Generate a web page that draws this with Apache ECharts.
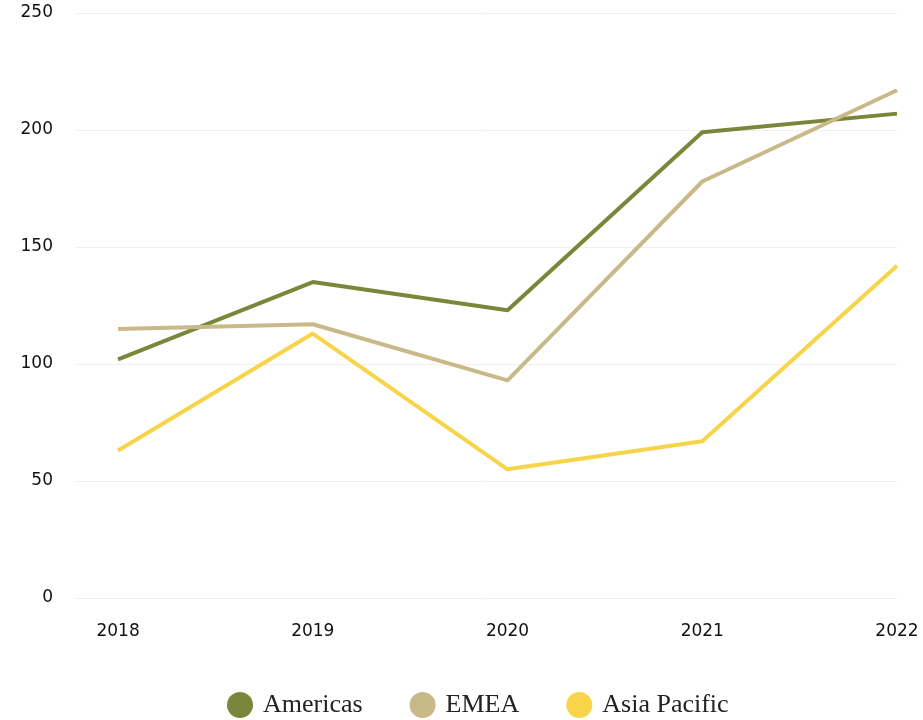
<!DOCTYPE html>
<html>
<head>
<meta charset="utf-8">
<script src="https://cdn.jsdelivr.net/npm/echarts@6/dist/echarts.min.js"></script>
<style>
  html, body { margin: 0; padding: 0; background: #ffffff; }
  #chart { width: 923px; height: 720px; }
</style>
</head>
<body>
<div id="chart"></div>
<script>
// Yearly values per region
var years = [2018, 2019, 2020, 2021, 2022];
var americas = [102, 135, 123, 199, 207];
var emea = [115, 117, 93, 178, 217];
var asiaPacific = [63, 113, 55, 67, 142];
var yTicks = [0, 50, 100, 150, 200, 250];

var seriesNames = ['Americas', 'EMEA', 'Asia Pacific'];
var seriesColors = ['#7a8639', '#c9b888', '#f7d44a'];
var seriesValues = [americas, emea, asiaPacific];

function pairs(values) {
  return years.map(function (y, i) { return [y, values[i]]; });
}

var chart = echarts.init(document.getElementById('chart'), null, { renderer: 'canvas' });

var axisFont = { fontFamily: 'DejaVu Sans', fontSize: 17, color: '#111111' };

chart.setOption({
  animation: false,
  grid: { left: 76, right: 26, top: 13, bottom: 122, containLabel: false },
  legend: {
    top: 692,
    left: 227,
    padding: 0,
    itemWidth: 26,
    itemHeight: 26,
    itemGap: 47,
    icon: 'circle',
    textStyle: { fontFamily: 'Liberation Serif', fontSize: 26, color: '#222222', padding: [0, 0, 0, 5] },
    data: seriesNames
  },
  xAxis: {
    type: 'value',
    min: 2017.784,
    max: 2022,
    axisLine: { show: false },
    axisTick: { show: false },
    splitLine: { show: false },
    axisLabel: Object.assign({
      customValues: years,
      margin: 25,
      formatter: function (v) { return String(Math.round(v)); }
    }, axisFont)
  },
  yAxis: {
    type: 'value',
    min: yTicks[0],
    max: yTicks[yTicks.length - 1],
    interval: 50,
    axisLine: { show: false },
    axisTick: { show: false },
    splitLine: { lineStyle: { color: '#f0f0f0', width: 1 } },
    axisLabel: Object.assign({ margin: 23 }, axisFont)
  },
  series: seriesNames.map(function (name, i) {
    return {
      name: name,
      type: 'line',
      data: pairs(seriesValues[i]),
      symbol: 'none',
      clip: false,
      color: seriesColors[i],
      lineStyle: { width: 4, color: seriesColors[i] }
    };
  })
});
</script>
</body>
</html>
